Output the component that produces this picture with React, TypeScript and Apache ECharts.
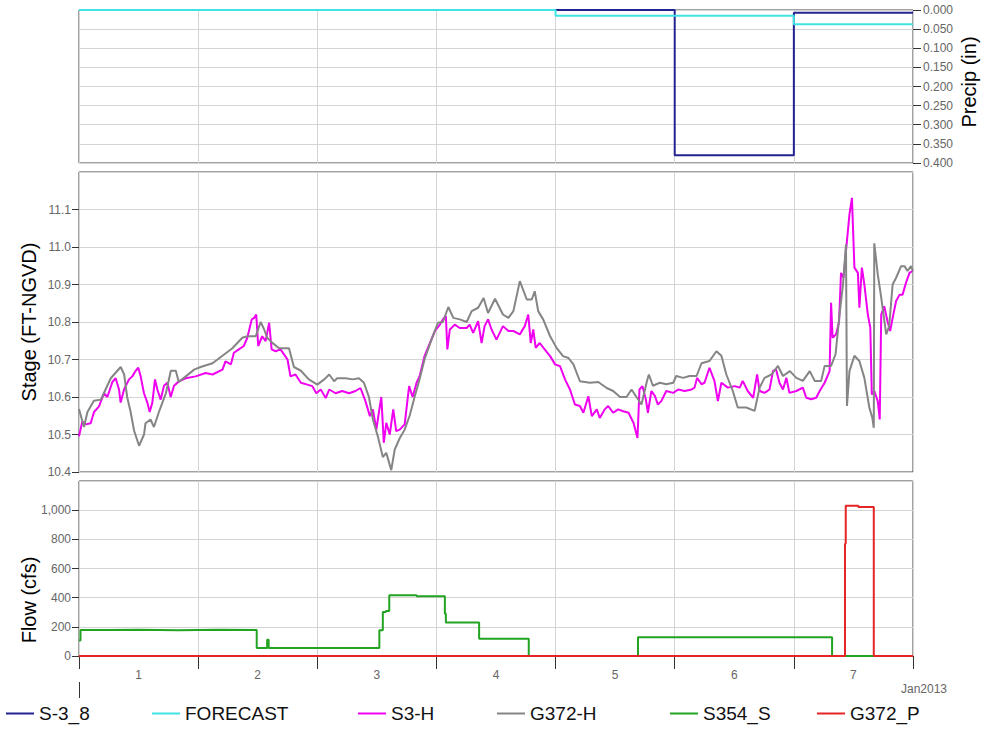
import React, { useEffect, useRef } from "react";
import * as echarts from "echarts";

// ---- data (x = hours since 1 Jan 2013 00:00) ----
const DAY_LABELS = ["1", "2", "3", "4", "5", "6", "7"];
const MONTH_LABEL = "Jan2013";
const SERIES_NAMES = ["S-3_8", "FORECAST", "S3-H", "G372-H", "S354_S", "G372_P"];

const S3_8: [number, number][] = [[0, 0], [120, 0.38], [144, 0.007], [168, 0.007]];
const FORECAST: [number, number][] = [[0, 0], [96, 0.015], [144, 0.037], [168, 0.037]];

const S3_H: [number, number][] = [
  [0, 10.495], [0.67, 10.535], [1.34, 10.527], [2.35, 10.53], [3.02, 10.56], [4.03, 10.575], [5.04, 10.61], [5.71, 10.6],
  [6.72, 10.64], [7.39, 10.65], [8.06, 10.62], [8.39, 10.585], [9.07, 10.62], [10.07, 10.647], [10.74, 10.655], [11.42, 10.67],
  [11.95, 10.678], [12.42, 10.655], [13.09, 10.61], [13.77, 10.585], [14.24, 10.56], [14.77, 10.585], [15.31, 10.647], [15.78, 10.62],
  [16.45, 10.593], [17.12, 10.63], [17.8, 10.638], [18.47, 10.6], [19.14, 10.63], [20.15, 10.642], [21.49, 10.65], [23.5, 10.655],
  [25.5, 10.664], [26.9, 10.66], [28.9, 10.673], [29.5, 10.695], [30.6, 10.687], [31.2, 10.718], [32.2, 10.727], [33.2, 10.736],
  [33.9, 10.758], [34.8, 10.807], [35.3, 10.811], [35.7, 10.82], [36.1, 10.736], [36.9, 10.762], [37.6, 10.749], [38.3, 10.798],
  [38.8, 10.727], [39.6, 10.722], [40.6, 10.727], [42.0, 10.7], [42.6, 10.655], [43.6, 10.66], [44.7, 10.638], [46.0, 10.633],
  [47.0, 10.629], [47.8, 10.61], [48.7, 10.62], [49.7, 10.597], [50.4, 10.62], [51.7, 10.61], [53.0, 10.616], [54.4, 10.61],
  [55.7, 10.616], [56.7, 10.624], [57.7, 10.589], [58.6, 10.549],
  [59.2, 10.567], [59.9, 10.513], [60.4, 10.558], [60.9, 10.6], [61.4, 10.478], [61.9, 10.531], [62.6, 10.5], [63.3, 10.567],
  [63.9, 10.509], [64.6, 10.513], [65.6, 10.527], [66.5, 10.629], [67.2, 10.6], [68.0, 10.638], [68.6, 10.655], [69.6, 10.709],
  [70.7, 10.744], [71.7, 10.776], [72.7, 10.793], [73.3, 10.807], [73.9, 10.816], [74.2, 10.727], [74.7, 10.78], [75.7, 10.793],
  [76.7, 10.784], [78.1, 10.784], [78.7, 10.793], [79.4, 10.771], [80.4, 10.802], [81.1, 10.744], [81.7, 10.789], [82.4, 10.807],
  [83.1, 10.78], [84.1, 10.753], [85.4, 10.789], [86.5, 10.776], [87.5, 10.776], [88.8, 10.767], [89.8, 10.789], [90.5, 10.82],
  [91.0, 10.744], [91.5, 10.78], [92.0, 10.731], [92.8, 10.744], [93.8, 10.727], [94.9, 10.709], [95.9, 10.687], [96.9, 10.682],
  [97.9, 10.647], [98.9, 10.62], [99.9, 10.58], [100.9, 10.576], [101.6, 10.558], [102.6, 10.602], [103.3, 10.549], [104.3, 10.567],
  [104.9, 10.544], [105.9, 10.567], [106.6, 10.576], [107.6, 10.558], [108.6, 10.567], [109.6, 10.562], [110.7, 10.558], [111.7, 10.531],
  [112.5, 10.491], [112.9, 10.62], [113.5, 10.629], [114.2, 10.593],
  [114.6, 10.558], [115.3, 10.616], [116.0, 10.603], [116.6, 10.58], [117.3, 10.589], [118.3, 10.616], [119.7, 10.611], [120.7, 10.62],
  [122.0, 10.616], [123.4, 10.62], [124.0, 10.625], [124.5, 10.651], [125.4, 10.634], [126.0, 10.638], [127.0, 10.678], [128.0, 10.643],
  [128.7, 10.589], [129.4, 10.638], [130.7, 10.625], [132.1, 10.629], [133.1, 10.625], [133.7, 10.643], [134.7, 10.616], [135.8, 10.598],
  [136.6, 10.66], [137.1, 10.616], [138.1, 10.611], [139.1, 10.62], [139.8, 10.669], [140.4, 10.674], [141.1, 10.638], [141.8, 10.62],
  [142.5, 10.651], [143.1, 10.611], [144.5, 10.616], [145.8, 10.625], [146.5, 10.598], [147.5, 10.594], [148.5, 10.598], [149.2, 10.616],
  [150.2, 10.638], [151.2, 10.669], [151.5, 10.851], [151.8, 10.758], [152.5, 10.767], [153.1, 10.8], [153.5, 10.931], [154.0, 10.918],
  [154.5, 10.989], [155.2, 11.087], [155.7, 11.131], [156.2, 10.945], [156.9, 10.931], [157.2, 10.838], [157.7, 10.945], [158.2, 10.9],
  [158.9, 10.82], [159.4, 10.785], [159.7, 10.607], [160.2, 10.616], [160.9, 10.589], [161.3, 10.54], [161.6, 10.82], [162.2, 10.842],
  [162.9, 10.8], [163.4, 10.776], [163.9, 10.811], [164.6, 10.856], [165.3, 10.873], [165.9, 10.873], [166.6, 10.905], [167.3, 10.931],
  [167.9, 10.936],
];

const G372_H: [number, number][] = [
  [0, 10.568], [1.0, 10.52], [1.7, 10.56], [3.0, 10.59], [4.4, 10.593], [5.0, 10.61], [6.4, 10.65], [8.4, 10.68],
  [9.1, 10.66], [9.7, 10.6], [10.4, 10.56], [11.1, 10.51], [12.1, 10.47], [13.1, 10.5], [13.4, 10.53], [14.4, 10.54],
  [15.1, 10.52], [16.1, 10.56], [16.8, 10.585], [17.5, 10.61], [18.5, 10.67], [19.5, 10.67], [20.1, 10.64], [21.5, 10.655],
  [23.2, 10.673], [24.5, 10.68], [26.9, 10.69], [28.9, 10.71], [30.9, 10.73], [32.9, 10.758], [33.9, 10.762], [35.6, 10.762],
  [36.6, 10.8], [37.3, 10.78], [37.9, 10.758], [38.9, 10.745], [40.3, 10.73], [42.3, 10.73], [43.3, 10.68], [44.7, 10.67],
  [46.3, 10.647], [48.0, 10.633], [49.4, 10.647], [50.4, 10.66], [51.4, 10.642], [52.0, 10.65], [53.7, 10.65], [55.1, 10.647],
  [56.4, 10.65], [57.4, 10.638], [58.4, 10.6],
  [59.2, 10.54], [60.2, 10.495], [61.2, 10.44], [61.9, 10.451], [62.9, 10.405], [63.6, 10.46], [64.6, 10.49], [65.6, 10.513],
  [66.6, 10.55], [67.6, 10.6], [68.6, 10.647], [69.6, 10.7], [71.0, 10.753], [72.3, 10.798], [73.3, 10.8], [74.4, 10.84],
  [75.4, 10.811], [76.7, 10.807], [78.1, 10.8], [79.1, 10.829], [80.4, 10.838], [81.5, 10.864], [82.4, 10.824], [83.8, 10.862],
  [85.4, 10.82], [86.5, 10.811], [87.5, 10.829], [88.8, 10.909], [90.2, 10.86], [91.2, 10.86], [91.8, 10.882], [92.5, 10.829],
  [93.5, 10.807], [94.9, 10.762], [96.2, 10.731], [97.5, 10.709], [98.6, 10.704], [99.6, 10.687], [100.9, 10.642], [102.9, 10.638],
  [104.6, 10.64], [106.3, 10.624], [107.6, 10.616], [109.0, 10.6], [110.3, 10.6], [111.3, 10.62], [112.3, 10.6], [113.3, 10.58],
  [114.4, 10.642],
  [114.8, 10.66], [115.6, 10.63], [117.0, 10.638], [118.3, 10.634], [119.7, 10.638], [120.3, 10.656], [121.7, 10.651], [123.0, 10.656],
  [124.4, 10.656], [125.4, 10.69], [127.0, 10.696], [128.4, 10.722], [129.4, 10.71], [130.4, 10.66], [131.7, 10.616], [132.7, 10.572],
  [134.4, 10.572], [136.1, 10.563], [137.1, 10.625], [138.1, 10.651], [139.5, 10.66], [140.8, 10.683], [141.8, 10.656], [143.2, 10.669],
  [144.5, 10.651], [145.8, 10.643], [147.2, 10.669], [148.2, 10.643], [149.5, 10.643], [150.2, 10.683], [151.5, 10.683], [152.4, 10.714],
  [153.2, 10.82], [153.9, 10.9], [154.5, 11.007], [154.7, 10.576], [155.2, 10.669], [156.2, 10.71], [157.2, 10.696], [158.2, 10.651],
  [159.2, 10.572], [159.8, 10.545], [160.1, 10.518], [160.2, 11.01], [160.9, 10.927], [161.6, 10.865], [162.6, 10.767], [163.2, 10.789],
  [163.9, 10.9], [164.6, 10.918], [165.6, 10.949], [166.3, 10.949], [166.9, 10.936], [167.6, 10.949], [168, 10.936],
];

const S354_S: [number, number][] = [
  [0, 107], [0.3, 178], [6, 180], [12, 176], [20, 180], [28, 178], [35.8, 55], [37.9, 112], [38.2, 55],
  [60.5, 176], [61.2, 302], [61.8, 308], [62.5, 416], [68, 410], [73.7, 290], [73.9, 229], [80.6, 119],
  [90.6, 0], [112.6, 128], [151.7, 0], [168, 0],
];

const G372_P: [number, number][] = [
  [0, 0], [154.3, 770], [154.45, 1030], [157, 1022], [160.1, 0], [168, 0],
];

const COLORS = ["#232392", "#3fe3e3", "#f000f0", "#858585", "#22a322", "#e52525"];

const FONT = "'Liberation Sans', Arial, sans-serif";
const LABEL_COLOR = "#666";
const GRID_LINE = "#d4d4d4";
const BORDER = "#444";

export default function App() {
  const ref = useRef<HTMLDivElement>(null);

  useEffect(() => {
    if (!ref.current) return;
    const chart = echarts.init(ref.current, undefined, { renderer: "svg" });

    const gridBase = { left: 79, right: 76, show: true, borderColor: BORDER, borderWidth: 1, containLabel: false };
    const hiddenX = (gridIndex: number) => ({
      type: "value" as const,
      gridIndex,
      position: "bottom" as const,
      min: 0,
      max: 168,
      interval: 24,
      axisLine: { show: false, onZero: false },
      axisTick: { show: false },
      axisLabel: { show: false },
      splitLine: { show: true, lineStyle: { color: GRID_LINE, width: 1 } },
    });
    const labelStyle = { color: LABEL_COLOR, fontSize: 12, fontFamily: FONT };

    const legendLefts = [6, 152, 358, 497, 670, 817];

    chart.setOption({
      animation: false,
      backgroundColor: "#fff",
      textStyle: { fontFamily: FONT },
      grid: [
        { ...gridBase, top: 10, height: 153 },
        { ...gridBase, top: 172, height: 300 },
        { ...gridBase, top: 481, height: 175 },
      ],
      xAxis: [
        hiddenX(0),
        hiddenX(1),
        {
          ...hiddenX(2),
          axisLine: { show: true, onZero: false, lineStyle: { color: BORDER } },
          axisTick: { show: true, length: 13, lineStyle: { color: "#333" } },
        },
        {
          type: "value",
          gridIndex: 2,
          position: "bottom",
          offset: 0,
          min: 0,
          max: 168,
          interval: 12,
          axisLine: { show: false, onZero: false },
          axisTick: { show: false },
          splitLine: { show: false },
          axisLabel: {
            ...labelStyle,
            margin: 13,
            formatter: (v: number) => (v % 24 === 12 ? DAY_LABELS[(v - 12) / 24] : ""),
          },
        },
      ],
      yAxis: [
        {
          type: "value",
          gridIndex: 0,
          position: "right",
          inverse: true,
          min: 0,
          max: 0.4,
          interval: 0.05,
          axisLine: { show: false, onZero: false },
          axisTick: { show: true, length: 8, lineStyle: { color: "#333" } },
          axisLabel: { ...labelStyle, margin: 10, formatter: (v: number) => v.toFixed(3) },
          splitLine: { show: true, lineStyle: { color: GRID_LINE } },
        },
        {
          type: "value",
          gridIndex: 1,
          position: "left",
          min: 10.4,
          max: 11.2,
          interval: 0.1,
          axisLine: { show: false, onZero: false },
          axisTick: { show: true, length: 7, lineStyle: { color: "#333" } },
          axisLabel: { ...labelStyle, margin: 8, showMaxLabel: false, formatter: (v: number) => v.toFixed(1) },
          splitLine: { show: true, lineStyle: { color: GRID_LINE } },
        },
        {
          type: "value",
          gridIndex: 2,
          position: "left",
          min: 0,
          max: 1200,
          interval: 200,
          axisLine: { show: false, onZero: false },
          axisTick: { show: true, length: 7, lineStyle: { color: "#333" } },
          axisLabel: {
            ...labelStyle,
            margin: 8,
            showMaxLabel: false,
            formatter: (v: number) => v.toLocaleString("en-US"),
          },
          splitLine: { show: true, lineStyle: { color: GRID_LINE } },
        },
      ],
      legend: SERIES_NAMES.map((name, i) => ({
        data: [name],
        left: legendLefts[i],
        top: 704,
        icon: "rect",
        itemWidth: 28,
        itemHeight: 2,
        itemGap: 0,
        padding: 0,
        selectedMode: false,
        textStyle: { fontSize: 19, color: "#111", fontFamily: FONT },
      })),
      series: [
        { name: "S-3_8", type: "line", xAxisIndex: 0, yAxisIndex: 0, step: "end", data: S3_8 },
        { name: "FORECAST", type: "line", xAxisIndex: 0, yAxisIndex: 0, step: "end", data: FORECAST },
        { name: "S3-H", type: "line", xAxisIndex: 1, yAxisIndex: 1, data: S3_H },
        { name: "G372-H", type: "line", xAxisIndex: 1, yAxisIndex: 1, data: G372_H },
        { name: "S354_S", type: "line", xAxisIndex: 2, yAxisIndex: 2, step: "end", data: S354_S },
        { name: "G372_P", type: "line", xAxisIndex: 2, yAxisIndex: 2, step: "end", data: G372_P },
      ].map((s, i) => ({
        ...s,
        showSymbol: false,
        symbol: "none",
        color: COLORS[i],
        lineStyle: { color: COLORS[i], width: 2 },
        z: i === 2 ? 2 : 3,
      })),
      graphic: [
        {
          type: "text",
          x: 29,
          y: 322,
          rotation: Math.PI / 2,
          style: { text: "Stage (FT-NGVD)", fontSize: 20, fontFamily: FONT, fill: "#000", align: "center", verticalAlign: "middle" },
        },
        {
          type: "text",
          x: 29,
          y: 600,
          rotation: Math.PI / 2,
          style: { text: "Flow (cfs)", fontSize: 20, fontFamily: FONT, fill: "#000", align: "center", verticalAlign: "middle" },
        },
        {
          type: "text",
          x: 969,
          y: 82,
          rotation: Math.PI / 2,
          style: { text: "Precip (in)", fontSize: 20, fontFamily: FONT, fill: "#000", align: "center", verticalAlign: "middle" },
        },
        {
          type: "text",
          x: 947,
          y: 689,
          style: { text: MONTH_LABEL, fontSize: 12, fontFamily: FONT, fill: LABEL_COLOR, align: "right", verticalAlign: "middle" },
        },
        {
          type: "line",
          shape: { x1: 79.5, y1: 682, x2: 79.5, y2: 698 },
          style: { stroke: "#333", lineWidth: 1 },
        },
      ],
    });

    return () => chart.dispose();
  }, []);

  return (
    <div
      ref={ref}
      style={{ position: "absolute", left: 0, top: 0, width: 989, height: 733 }}
    />
  );
}
